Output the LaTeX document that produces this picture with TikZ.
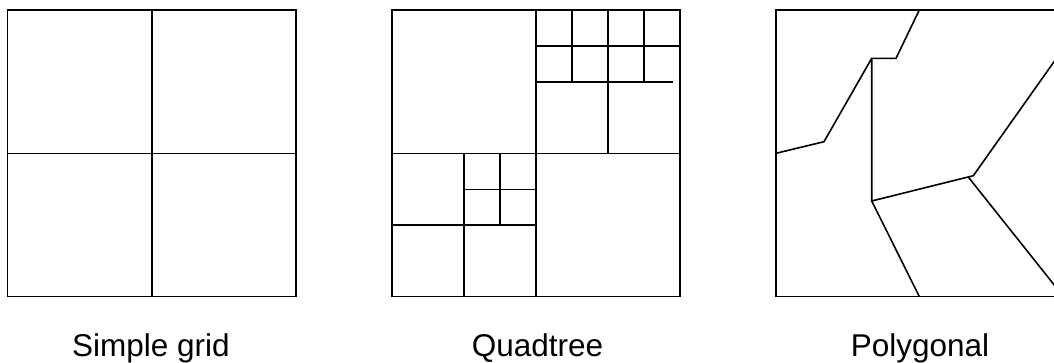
\documentclass[tikz,border=0pt]{standalone}
\usepackage{fontspec}
\setmainfont{Liberation Sans}
\usetikzlibrary{positioning}

\tikzset{
  cellline/.style={line width=1.6pt, line join=miter},
  caption/.style={font=\fontsize{31.5}{36}\selectfont, anchor=base, inner sep=0pt},
}

\begin{document}
\begin{tikzpicture}[x=1pt, y=-1pt, cellline]
    \clip (0,0) rectangle (1054,362);

    % simple grid
    \draw (7.5,10) rectangle (296,296.5);
    \draw (152,10) -- (152,296.5);
    \draw (7.5,153.5) -- (296,153.5);

    % quadtree
    \draw (392,10) rectangle (680,296.5);
    \draw (536,10) -- (536,296.5);
    \draw (392,153.5) -- (680,153.5);
    \draw (536,82) -- (673,82);
    \draw (608,82) -- (608,153.5);
    \draw (536,46) -- (680,46);
    \foreach \x in {572,608,644}
      \draw (\x,10) -- (\x,82);
    \draw (464,153.5) -- (464,296.5);
    \draw (392,225) -- (536,225);
    \draw (500,153.5) -- (500,225);
    \draw (464,189.3) -- (536,189.3);

    % polygonal
    \draw (776,10) rectangle (1064,296.5);
    \coordinate (pa) at (776,153.3);
    \coordinate (pb) at (824,141.7);
    \coordinate (pc) at (871.7,58.3);
    \coordinate (pd) at (896,58.3);
    \coordinate (pe) at (919.3,10);
    \coordinate (pf) at (871.7,201);
    \coordinate (pg) at (973.3,175.7);
    \coordinate (ph) at (968.5,177.3);
    \coordinate (pi) at (919.3,296.5);
    \coordinate (pj) at (1064,47.6);
    \coordinate (pk) at (1063.4,296.5);
    \draw (pa) -- (pb) -- (pc) -- (pd) -- (pe);
    \draw (pc) -- (pf) -- (pg) -- (pj);
    \draw (pf) -- (pi);
    \draw (ph) -- (pk);

    % captions
    \node[caption] (gridlabel) at (151,356) {Simple grid};
    \node[caption] (quadlabel) at (537.5,356) {Quadtree};
    \node[caption] (polylabel) at (920,356) {Polygonal};
  \end{tikzpicture}
\end{document}
